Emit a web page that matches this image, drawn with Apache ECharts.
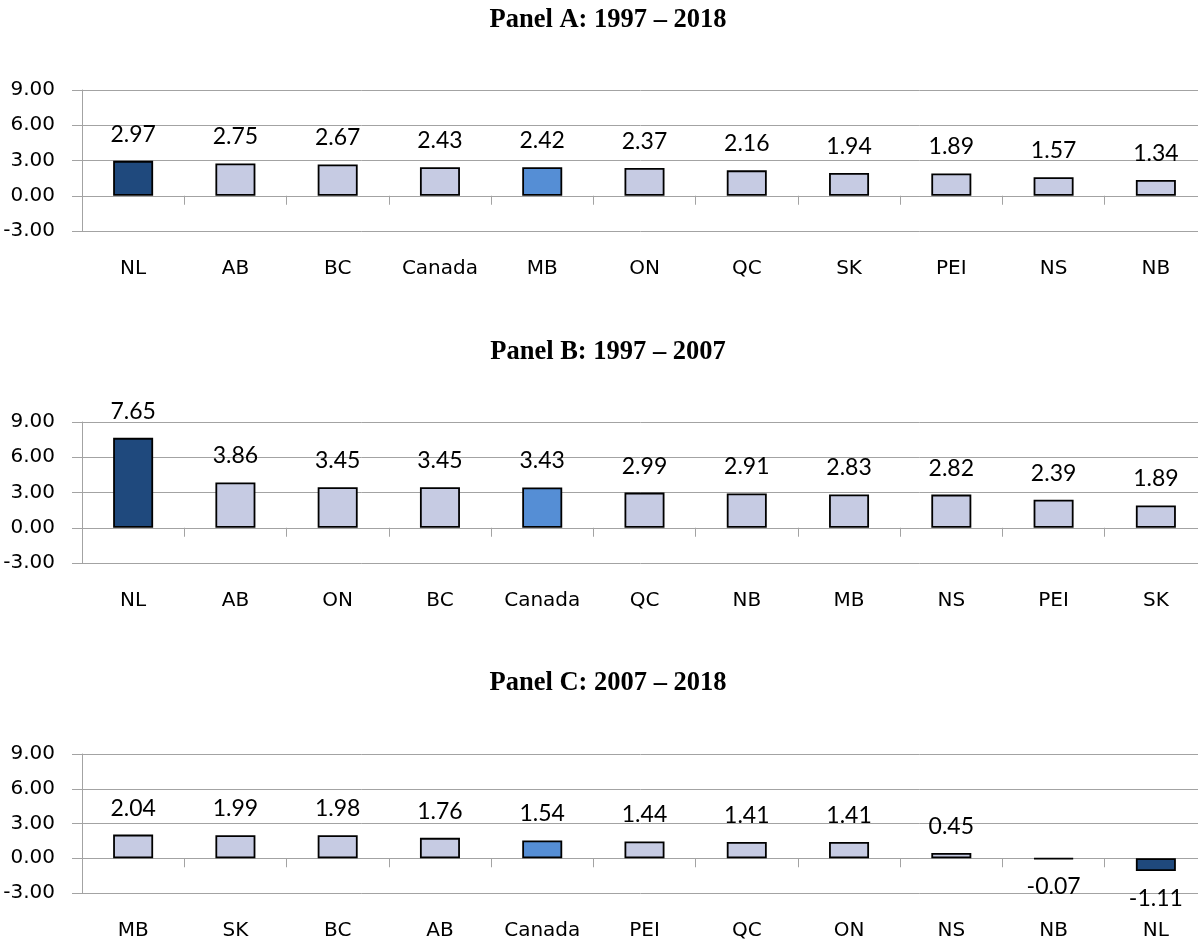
<!DOCTYPE html>
<html>
<head>
<meta charset="utf-8">
<title>Growth by province</title>
<script src="https://cdn.jsdelivr.net/npm/echarts@6/dist/echarts.min.js"></script>
<style>
  html, body { margin: 0; padding: 0; background: #ffffff; }
  #chart { width: 1198px; height: 942px; }
</style>
</head>
<body>
<div id="chart"></div>
<script>
// Panel titles
const panelTitles = ['Panel A: 1997 \u2013 2018', 'Panel B: 1997 \u2013 2007', 'Panel C: 2007 \u2013 2018'];

// Panel A: 1997 – 2018
const catsA = ['NL', 'AB', 'BC', 'Canada', 'MB', 'ON', 'QC', 'SK', 'PEI', 'NS', 'NB'];
const valsA = [2.97, 2.75, 2.67, 2.43, 2.42, 2.37, 2.16, 1.94, 1.89, 1.57, 1.34];

// Panel B: 1997 – 2007
const catsB = ['NL', 'AB', 'ON', 'BC', 'Canada', 'QC', 'NB', 'MB', 'NS', 'PEI', 'SK'];
const valsB = [7.65, 3.86, 3.45, 3.45, 3.43, 2.99, 2.91, 2.83, 2.82, 2.39, 1.89];

// Panel C: 2007 – 2018
const catsC = ['MB', 'SK', 'BC', 'AB', 'Canada', 'PEI', 'QC', 'ON', 'NS', 'NB', 'NL'];
const valsC = [2.04, 1.99, 1.98, 1.76, 1.54, 1.44, 1.41, 1.41, 0.45, -0.07, -1.11];

// Value axis ticks
const yMin = -3, yMax = 9, yStep = 3;

// Bars filled dark / medium in each panel
const darkBar = ['NL', 'NL', 'NL'];
const mediumBar = ['MB', 'Canada', 'Canada'];

const COLOR_DARK = '#1f497d';
const COLOR_MEDIUM = '#558ed5';
const COLOR_LIGHT = '#c6cbe3';
const GRID_GRAY = '#a3a3a3';
const AXIS_FONT = 'DejaVu Sans';
const VALUE_FONT = 'Lato';

const panels = [
  { cats: catsA, vals: valsA },
  { cats: catsB, vals: valsB },
  { cats: catsC, vals: valsC }
];

// Layout of the three stacked plots (top gridline y, plot height, title y)
const layout = [
  { top: 90, height: 141, titleTop: 2 },
  { top: 422, height: 141, titleTop: 334 },
  { top: 754, height: 139, titleTop: 665 }
];

const chart = echarts.init(document.getElementById('chart'), null, { renderer: 'canvas' });

const option = {
  backgroundColor: '#ffffff',
  animation: false,
  title: panels.map((p, i) => ({
    text: panelTitles[i],
    left: 603,
    top: layout[i].titleTop,
    textAlign: 'center',
    textStyle: {
      fontFamily: 'Liberation Serif',
      fontWeight: 'bold',
      fontSize: 26.5,
      color: '#000000'
    }
  })),
  grid: panels.map((p, i) => ({
    left: 82,
    top: layout[i].top,
    width: 1125,
    height: layout[i].height,
    containLabel: false,
    outerBoundsMode: 'none'
  })),
  xAxis: panels.map((p, i) => ({
    type: 'category',
    gridIndex: i,
    data: p.cats,
    position: 'bottom',
    axisLine: { show: true, onZero: true, lineStyle: { color: GRID_GRAY, width: 1 } },
    axisTick: { show: true, length: 9, inside: false, lineStyle: { color: GRID_GRAY, width: 1 } },
    axisLabel: {
      show: true,
      interval: 0,
      margin: 28,
      fontFamily: AXIS_FONT,
      fontSize: 20,
      color: '#000000'
    },
    splitLine: { show: false }
  })),
  yAxis: panels.map((p, i) => ({
    type: 'value',
    gridIndex: i,
    min: yMin,
    max: yMax,
    interval: yStep,
    axisLine: { show: true, lineStyle: { color: GRID_GRAY, width: 1 } },
    axisTick: { show: true, length: 10, lineStyle: { color: GRID_GRAY, width: 1 } },
    axisLabel: {
      margin: 27,
      fontFamily: AXIS_FONT,
      fontSize: 20,
      color: '#000000',
      formatter: v => v.toFixed(2)
    },
    splitLine: { show: true, lineStyle: { color: GRID_GRAY, width: 1 } }
  })),
  series: panels.map((p, i) => ({
    type: 'bar',
    xAxisIndex: i,
    yAxisIndex: i,
    barWidth: 40,
    data: p.vals.map((v, k) => {
      const name = p.cats[k];
      const fill = name === darkBar[i] ? COLOR_DARK : (name === mediumBar[i] ? COLOR_MEDIUM : COLOR_LIGHT);
      return {
        value: v,
        itemStyle: { color: fill },
        label: v < 0 ? { position: 'bottom', distance: 16 } : { position: 'top', distance: 15 }
      };
    }),
    itemStyle: { borderColor: '#000000', borderWidth: 1.8 },
    label: {
      show: true,
      fontFamily: VALUE_FONT,
      fontSize: 23,
      color: '#000000',
      formatter: d => d.value.toFixed(2)
    }
  }))
};

chart.setOption(option);
</script>
</body>
</html>
